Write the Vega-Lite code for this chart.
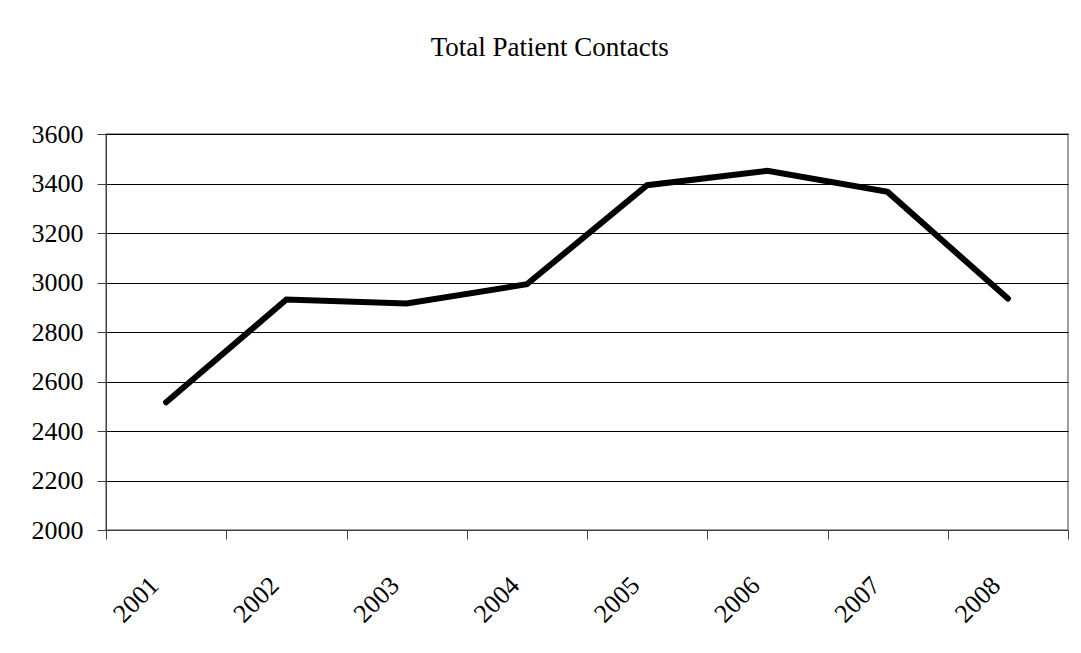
{
  "$schema": "https://vega.github.io/schema/vega-lite/v6.json",
  "width": 962,
  "height": 396,
  "autosize": {"type": "none"},
  "padding": {"left": 106, "top": 134, "right": 13, "bottom": 123},
  "background": "white",
  "title": {
    "text": "Total Patient Contacts",
    "font": "Liberation Serif",
    "fontSize": 27,
    "fontWeight": "normal",
    "color": "black",
    "anchor": "middle",
    "frame": "bounds",
    "baseline": "alphabetic",
    "offset": 38
  },
  "data": {
    "values": [
      {"year": "2001", "contacts": 2516},
      {"year": "2002", "contacts": 2931},
      {"year": "2003", "contacts": 2915},
      {"year": "2004", "contacts": 2993},
      {"year": "2005", "contacts": 3393},
      {"year": "2006", "contacts": 3451},
      {"year": "2007", "contacts": 3366},
      {"year": "2008", "contacts": 2935}
    ]
  },
  "mark": {"type": "line", "color": "black", "strokeWidth": 6, "strokeCap": "round", "strokeJoin": "miter"},
  "encoding": {
    "x": {
      "field": "year",
      "type": "ordinal",
      "scale": {"paddingInner": 0, "paddingOuter": 0},
      "axis": {
        "title": null,
        "tickBand": "extent",
        "labelAngle": -45,
        "labelAlign": "right",
        "labelBaseline": "middle",
        "labelOffset": -12,
        "labelPadding": 42,
        "tickSize": 9,
        "tickColor": "#404040",
        "domainColor": "#404040",
        "labelFont": "Liberation Serif",
        "labelFontSize": 26,
        "labelColor": "black",
        "grid": false
      }
    },
    "y": {
      "field": "contacts",
      "type": "quantitative",
      "scale": {"domain": [2000, 3600], "nice": false, "zero": false},
      "axis": {
        "title": null,
        "format": "d",
        "values": [2000, 2200, 2400, 2600, 2800, 3000, 3200, 3400, 3600],
        "tickSize": 9,
        "tickColor": "#404040",
        "domainColor": "#404040",
        "labelPadding": 14,
        "labelFont": "Liberation Serif",
        "labelFontSize": 26,
        "labelColor": "black",
        "grid": true,
        "gridColor": "black",
        "gridWidth": 1
      }
    }
  },
  "config": {
    "view": {"stroke": "#808080", "strokeWidth": 1.5}
  }
}
